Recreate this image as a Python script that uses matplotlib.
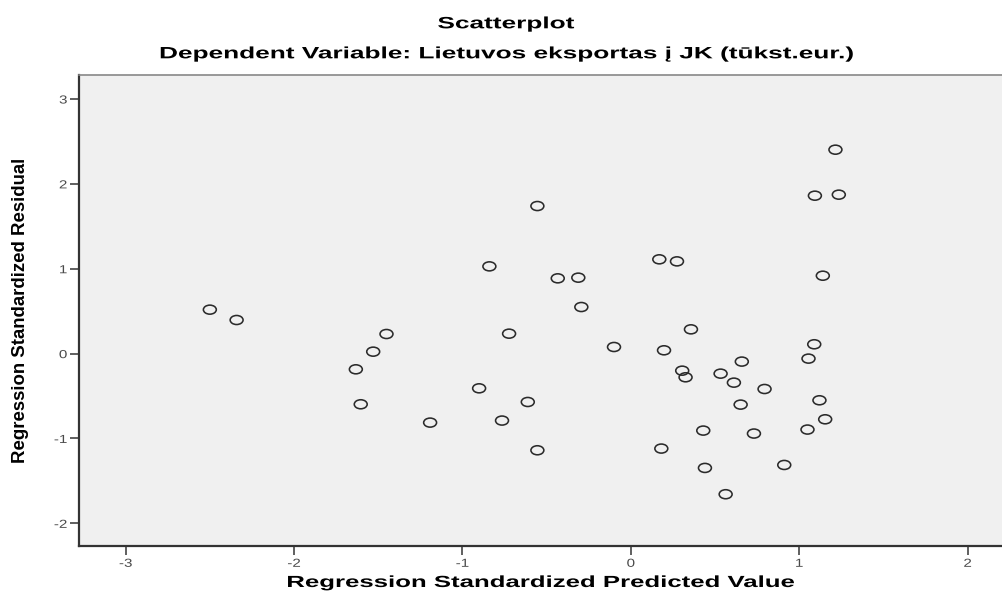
import numpy as np
import matplotlib
matplotlib.use("Agg")
import matplotlib.pyplot as plt
from matplotlib.path import Path
from matplotlib.transforms import Affine2D
from matplotlib.patheffects import AbstractPathEffect

# Data
predicted = [-2.50, -2.341, -1.633, -1.604, -1.530, -1.451, -1.192, -0.901, -0.840,
             -0.765, -0.723, -0.612, -0.555, -0.555, -0.434, -0.312, -0.294, -0.100,
             0.169, 0.181, 0.197, 0.274, 0.305, 0.325, 0.357, 0.430, 0.440, 0.533,
             0.563, 0.612, 0.652, 0.659, 0.731, 0.794, 0.911, 1.049, 1.055, 1.089,
             1.093, 1.120, 1.140, 1.154, 1.215, 1.235]
residual = [0.518, 0.396, -0.185, -0.597, 0.023, 0.231, -0.813, -0.409, 1.028,
            -0.789, 0.235, -0.570, 1.739, -1.139, 0.887, 0.895, 0.549, 0.078,
            1.111, -1.119, 0.039, 1.087, -0.201, -0.279, 0.286, -0.907, -1.347, -0.236,
            -1.657, -0.342, -0.601, -0.094, -0.942, -0.417, -1.312, -0.895, -0.059, 0.110,
            1.861, -0.550, 0.918, -0.774, 2.403, 1.873]
x_ticks = [-3, -2, -1, 0, 1, 2]
y_ticks = [-2, -1, 0, 1, 2, 3]

title = "Scatterplot"
subtitle = "Dependent Variable: Lietuvos eksportas į JK (tūkst.eur.)"
xlabel = "Regression Standardized Predicted Value"
ylabel = "Regression Standardized Residual"


class Stretch(AbstractPathEffect):
    """Draw text glyphs horizontally stretched (the reference image is stretched)."""

    def __init__(self, sx=1.0, anchor="center"):
        super().__init__()
        self.sx = sx
        self.anchor = anchor

    def draw_path(self, renderer, gc, tpath, affine, rgbFace=None):
        ext = tpath.get_extents()
        if self.anchor == "right":
            cx = ext.x1
        elif self.anchor == "left":
            cx = ext.x0
        else:
            cx = 0.5 * (ext.x0 + ext.x1)
        t = Affine2D().translate(-cx, 0).scale(self.sx, 1.0).translate(cx, 0) + affine
        renderer.draw_path(gc, tpath, t, rgbFace)


W, H = 1003, 602
fig = plt.figure(figsize=(W / 100, H / 100), dpi=100)
fig.patch.set_facecolor("white")

ax = fig.add_axes([79 / W, 1 - 546 / H, 1 - 79 / W, (546 - 75) / H])
ax.set_facecolor("#F0F0F0")
ax.set_xlim(-3.277, 2.21)
ax.set_ylim(-2.267, 3.283)

# slightly flattened open circle marker (image is stretched horizontally)
uc = Path.unit_circle()
ell = Path(uc.vertices * np.array([1.0, 0.70]), uc.codes)
ax.scatter(predicted, residual, marker=ell, s=9.3 ** 2, facecolors="none",
           edgecolors="#2b2b2b", linewidths=1.15, zorder=3)

ax.set_xticks(x_ticks)
ax.set_yticks(y_ticks)
ax.set_xticklabels([str(v) for v in x_ticks])
ax.set_yticklabels([str(v) for v in y_ticks])
ax.tick_params(axis="both", direction="out", length=6.5, width=1.2,
               color="#444444", labelcolor="#4a4a4a", labelsize=8.4,
               pad=2, labelfontfamily="Liberation Sans")
for lab in ax.get_xticklabels():
    lab.set_path_effects([Stretch(1.3, "center")])
for lab in ax.get_yticklabels():
    lab.set_path_effects([Stretch(1.3, "right")])

for side in ["left", "bottom"]:
    ax.spines[side].set_color("#333333")
    ax.spines[side].set_linewidth(1.6)
ax.spines["top"].set_color("#888888")
ax.spines["top"].set_linewidth(1.2)
ax.spines["right"].set_visible(False)

fam = ["Liberation Sans", "DejaVu Sans"]
t1 = fig.text(506 / W, 1 - 28.3 / H, title, ha="center", va="baseline",
              fontsize=11.8, fontweight="bold", family=fam)
t2 = fig.text(506 / W, 1 - 58.3 / H, subtitle, ha="center", va="baseline",
              fontsize=11.8, fontweight="bold", family=fam)
t3 = fig.text(541 / W, 1 - 587 / H, xlabel, ha="center", va="baseline",
              fontsize=11.6, fontweight="bold", family=fam)
for t in (t1, t2, t3):
    t.set_path_effects([Stretch(1.6, "center")])
fig.text(21 / W, 1 - 310.5 / H, ylabel, ha="center", va="center", rotation=90,
         fontsize=13.4, fontweight="bold", family=fam)

fig.savefig("out.png", dpi=100, facecolor="white")
